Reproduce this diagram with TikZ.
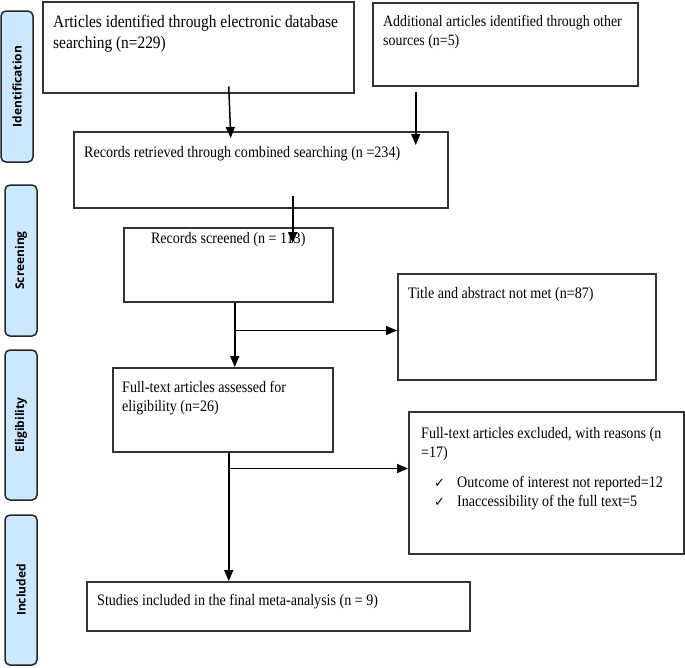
\documentclass[tikz,border=0pt]{standalone}
\usepackage{fontspec}
\setmainfont{Liberation Serif}[FakeStretch=0.88]
\newfontfamily\barfont{Open Sans}
\newfontfamily\chkfont{DejaVu Sans}
\usetikzlibrary{arrows.meta}
\definecolor{barblue}{RGB}{204,232,255}
\newcommand{\chkmark}{\hspace*{13pt}\makebox[23pt][l]{\chkfont\fontsize{13}{13}\selectfont ✓}}
\tikzset{
  stagebox/.style={draw=black!85, line width=1.5pt, fill=barblue, rounded corners=5pt, rotate=90, minimum height=32pt, inner sep=0pt, font={\barfont\bfseries\fontsize{12}{14}\selectfont}},
  flowbox/.style={draw=black!80, line width=1.5pt, anchor=north west, inner sep=0pt},
  flowtext/.style={anchor=north west, inner sep=0pt, align=left, font={\fontsize{16}{19}\selectfont}},
  flowarrow/.style={line width=1.5pt, -{Triangle[length=11pt,width=9pt]}},
}

\begin{document}
\begin{tikzpicture}[x=1pt, y=-1pt]
\useasboundingbox (0,0) rectangle (685,667);

\node[stagebox, minimum width=151pt] (ident) at (17,86.5) {Identification};
\node[stagebox, minimum width=151pt] (screen) at (21,260.5) {Screening};
\node[stagebox, minimum width=150pt] (elig) at (21,425) {Eligibility};
\node[stagebox, minimum width=150pt] (incl) at (21,590) {Included};

\node[flowbox, minimum width=311pt, minimum height=91pt] (A) at (42,1) {};
\node[flowbox, minimum width=265pt, minimum height=83pt] (B) at (372,2) {};
\node[flowbox, minimum width=374pt, minimum height=76pt] (C) at (73,131) {};
\node[flowbox, minimum width=209pt, minimum height=74pt] (D) at (123,227) {};
\node[flowbox, minimum width=258pt, minimum height=106pt] (E) at (397,273) {};
\node[flowbox, minimum width=220pt, minimum height=84pt] (F) at (112,367) {};
\node[flowbox, minimum width=275pt, minimum height=142pt] (G) at (408,411) {};
\node[flowbox, minimum width=383pt, minimum height=49pt] (H) at (86,581) {};

\node[flowtext, font={\fontsize{17.5}{21}\selectfont}] (Atext) at ([xshift=11pt,yshift=-14pt]A.north west) {Articles identified through electronic database\\searching (n=229)};
\node[flowtext, font={\fontsize{15.8}{19}\selectfont}] (Btext) at ([xshift=11pt,yshift=-13pt]B.north west) {Additional articles identified through other\\sources (n=5)};
\node[flowtext] (Ctext) at ([xshift=11pt,yshift=-15pt]C.north west) {Records retrieved through combined searching (n =234)};
\node[flowtext, anchor=north] (Dtext) at ([yshift=-5pt]D.north) {Records screened (n = 113)};
\node[flowtext] (Etext) at ([xshift=11pt,yshift=-14pt]E.north west) {Title and abstract not met (n=87)};
\node[flowtext] (Ftext) at ([xshift=10pt,yshift=-14pt]F.north west) {Full-text articles assessed for\\eligibility (n=26)};
\node[flowtext] (Gtext) at ([xshift=13pt,yshift=-16pt]G.north west) {Full-text articles excluded, with reasons (n\\=17)\\[11pt]\chkmark Outcome of interest not reported=12\\\chkmark Inaccessibility of the full text=5};
\node[flowtext] (Htext) at ([xshift=11pt,yshift=-13pt]H.north west) {Studies included in the final meta-analysis (n = 9)};

\draw[flowarrow] ([xshift=30.5pt,yshift=7pt]A.south) -- ([xshift=-30pt,yshift=-7pt]C.north);
\draw[flowarrow] ([xshift=-89.5pt,yshift=-5pt]B.south) -- ([xshift=155pt,yshift=-14pt]C.north);
\draw[flowarrow] ([xshift=32pt,yshift=13pt]C.south) -- ([xshift=64.5pt,yshift=-16pt]D.north);

\coordinate (split1) at ([xshift=6.5pt,yshift=-28pt]D.south);
\draw[flowarrow] ([xshift=6.5pt]D.south) -- ([xshift=12pt]F.north);
\draw[flowarrow] (split1) -- (split1 -| E.west);

\coordinate (split2) at ([xshift=6pt,yshift=-16pt]F.south);
\draw[flowarrow] ([xshift=6pt]F.south) -- ([xshift=-49.5pt]H.north);
\draw[flowarrow] (split2) -- (split2 -| G.west);
\end{tikzpicture}
\end{document}
